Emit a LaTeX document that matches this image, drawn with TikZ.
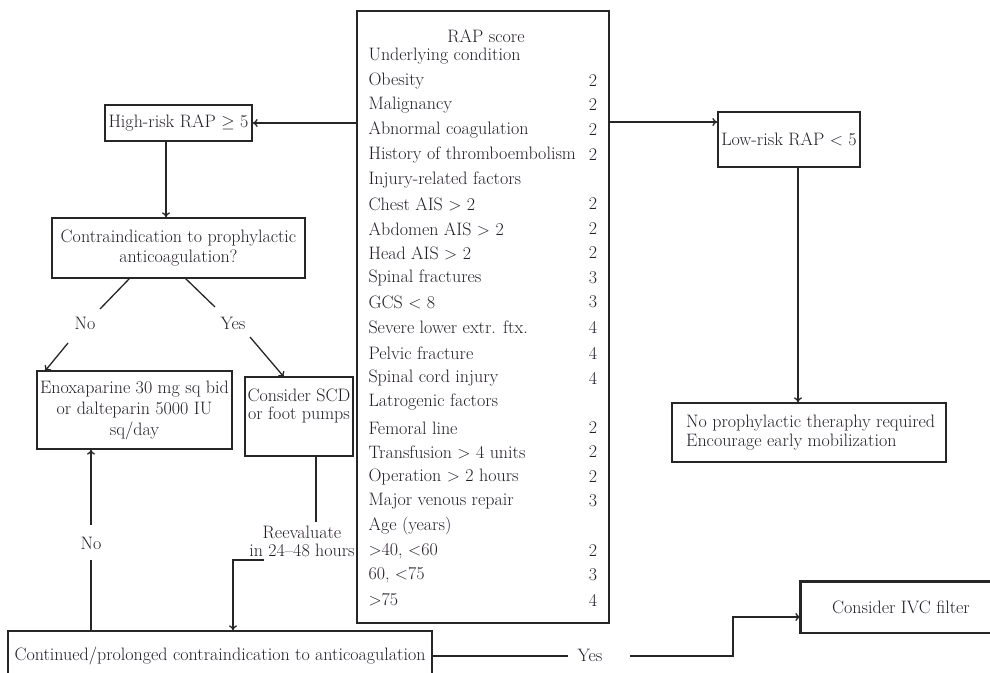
\documentclass[tikz,border=0pt]{standalone}
\usetikzlibrary{arrows.meta}
\definecolor{ink}{RGB}{35,30,40}
\begin{document}
\begin{tikzpicture}[x=1pt,y=-1pt,
  font=\fontsize{18}{21}\selectfont,
  every node/.append style={text=ink},
  box/.style={draw=black!85, line width=1.3pt, inner sep=0pt, align=center},
  lab/.style={inner sep=1pt, align=center},
  conn/.style={draw=black!85, line width=1.3pt},
  arr/.style={conn, -{To[length=5pt,width=8pt]}}]
\useasboundingbox (0,0) rectangle (990,672);

% central RAP score table
\node[box, minimum width=252, minimum height=612] (rap) at (483,317) {};
\node (t0) at (486,36) {RAP score};
\foreach \yy/\rt [count=\i] in {56/Underlying condition, 180/Injury-related factors, 402/Latrogenic factors, 526/Age (years)}
  \node[anchor=west] (h\i) at (365,\yy) {\rt};
\foreach \yy/\rt/\vv [count=\i] in {
  81/Obesity/2, 105/Malignancy/2, 130/Abnormal coagulation/2,
  155/History of thromboembolism/2,
  204/Chest AIS $>$ 2/2, 229/Abdomen AIS $>$ 2/2, 253/Head AIS $>$ 2/2,
  278/Spinal fractures/3, 302/GCS $<$ 8/3, 327/Severe lower extr. ftx./4,
  353/Pelvic fracture/4, 378/Spinal cord injury/4,
  428/Femoral line/2, 452/Transfusion $>$ 4 units/2, 477/Operation $>$ 2 hours/2,
  501/Major venous repair/3,
  551/{$>$40, $<$60}/2, 575/{60, $<$75}/3, 600/$>$75/4}
{
  \node[anchor=west] (r\i) at (365,\yy) {\rt};
  \node (v\i) at (593,\yy) {\vv};
}

% left branch
\node[box, minimum width=147, minimum height=36] (hr) at (178.5,123) {High-risk RAP $\geq$ 5};
\node[box, minimum width=253, minimum height=60] (ci) at (178.5,248) {Contraindication to prophylactic\\[-1pt]anticoagulation?};
\node[box, minimum width=195, minimum height=78] (en) at (134.5,410) {Enoxaparine 30 mg sq bid\\or dalteparin 5000 IU\\sq/day};
\node[box, minimum width=108, minimum height=79] (scd) at (299,416.5) {};
\node[lab] (scdt) at (299,406) {Consider SCD\\[-3pt]or foot pumps};
\node[box, minimum width=424, minimum height=50] (bot) at (220,656) {Continued/prolonged contraindication to anticoagulation};

% right branch
\node[box, minimum width=142, minimum height=55] (lo) at (789,139.5) {Low-risk RAP $<$ 5};
\node[box, minimum width=274, minimum height=59] (np) at (809,432.5) {};
\node[lab, anchor=west, align=left] (npt) at (685,432.5) {No prophylactic theraphy required\\[-2pt]Encourage early mobilization};
\node[box, minimum width=200, minimum height=51] (ivc) at (901,607.5) {Consider IVC filter};
\draw[line width=3pt, black!85] (ivc.south west) -- (ivc.north west) -- (ivc.north east);

% labels
\node[lab] (no1) at (85,323) {No};
\node[lab] (yes1) at (233,323) {Yes};
\node[lab] (no2) at (91,543) {No};
\node[lab] (reev) at (302,541) {Reevaluate\\[-3pt]in 24--48 hours};
\node[lab] (yes2) at (590,655) {Yes};

% helper coordinates
\coordinate (yr) at (0,122);
\coordinate (xc) at (166,0);
\coordinate (xl) at (798,0);
\coordinate (noS) at (130,278);
\coordinate (noA) at (100,309);
\coordinate (noB) at (68,343);
\coordinate (noC) at (45,371);
\coordinate (yesS) at (185,278);
\coordinate (yesA) at (215,307);
\coordinate (yesB) at (250,337);
\coordinate (yesC) at (284,377);
\coordinate (reT) at (316,0);
\coordinate (reA) at (316,522);
\coordinate (reB) at (264,560);
\coordinate (reC) at (233,560);
\coordinate (nvA) at (91,560);
\coordinate (nvB) at (91,525);
\coordinate (yA) at (568,656);
\coordinate (yB) at (630,656);
\coordinate (kk) at (733,617);

% connectors
\draw[arr] (rap.west |- hr.east) -- (hr.east);
\draw[arr] (rap.east |- yr) -- (lo.west |- yr);
\draw[arr] (hr.south -| xc) -- (ci.north -| xc);
\draw[arr] (lo.south -| xl) -- (np.north -| xl);
\draw[conn] (noS) -- (noA);
\draw[arr] (noB) -- (noC);
\draw[conn] (yesS) -- (yesA);
\draw[arr] (yesB) -- (yesC);
\draw[conn] (scd.south -| reT) -- (reA);
\draw[arr] (reB) -- (reC) -- (bot.north -| reC);
\draw[conn] (bot.north -| nvA) -- (nvA);
\draw[arr] (nvB) -- (en.south -| nvB);
\draw[conn] (bot.east |- yA) -- (yA);
\draw[arr] (yB) -| (kk) -- (ivc.west |- kk);
\end{tikzpicture}
\end{document}
